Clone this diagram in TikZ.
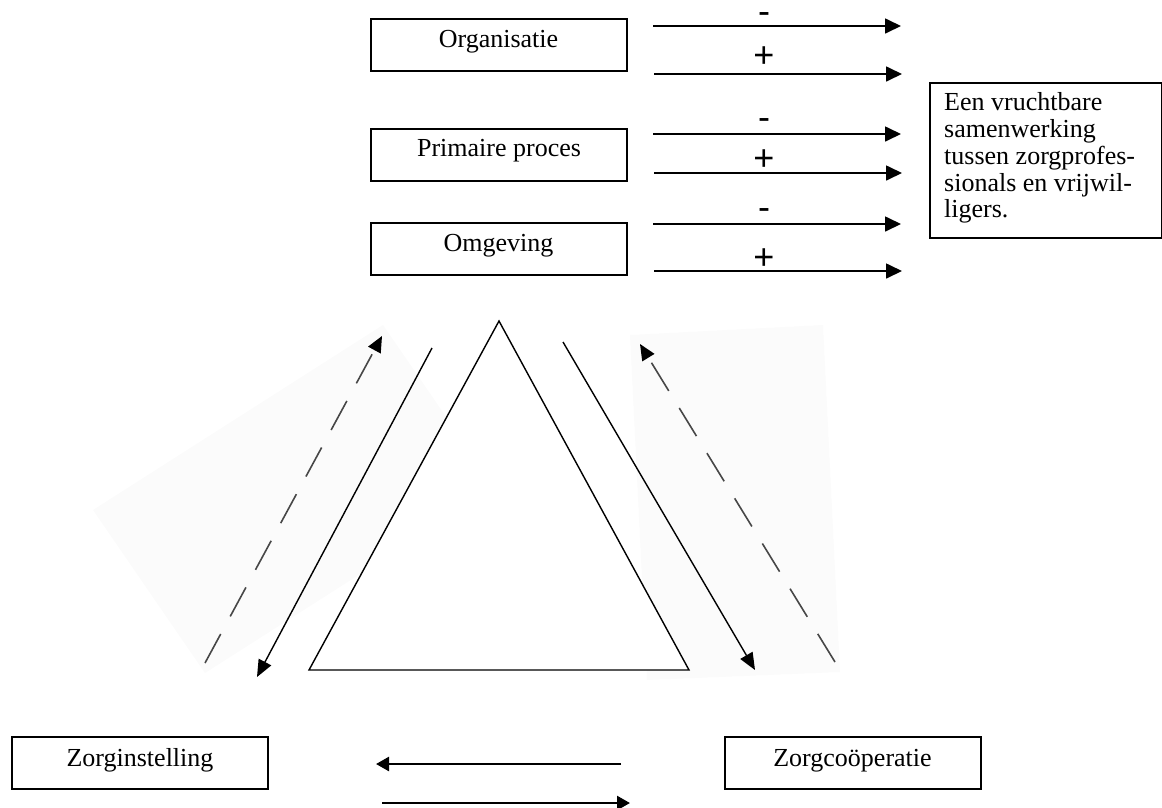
\documentclass[tikz,border=0pt]{standalone}
\usepackage{fontspec}
\setmainfont{Liberation Serif}
\newfontfamily\signfont{Liberation Sans}
\usetikzlibrary{arrows.meta}
\begin{document}
\begin{tikzpicture}[x=1pt,y=-1pt,
  factor/.style={draw, line width=2pt, minimum width=256pt, minimum height=52pt,
    inner sep=0pt, outer sep=0pt, text height=18pt, text depth=14pt,
    font=\fontsize{26}{30}\selectfont},
  party/.style={factor, text height=18pt, text depth=12pt},
  flow/.style={line width=1.7pt, -{Triangle[length=16pt,width=15pt]}},
  sign/.style={font=\signfont\fontsize{36}{36}\selectfont, anchor=base, inner sep=0pt},
  link/.style={line width=1.4pt, -{Triangle[length=17pt,width=14pt]}},
  feedback/.style={draw=black!72, line width=1.6pt, dash pattern=on 33pt off 20pt,
    -{Triangle[length=16pt,width=14pt,color=black]}},
  exchange/.style={line width=2.5pt, -{Triangle[length=13pt,width=14pt]}},
  patch/.style={fill=black!1.5, draw=none}
]
\useasboundingbox (0,0) rectangle (1162,807);

% faint panels behind the dashed return arrows
\fill[patch] (383,325) -- (93,510) -- (205,673) -- (495,488) -- cycle;
\fill[patch] (630,335) -- (823,325) -- (840,672) -- (647,680) -- cycle;

% factors
\node[factor] (org) at (498.5,45) {Organisatie};
\node[factor] (prim) at (499,154.5) {Primaire proces};
\node[factor] (omg) at (498.5,249) {Omgeving};

% influence arrows with signs
\foreach \n/\ya/\yb in {a/26/74, b/134/173, c/224/271}{
  \coordinate (\n1s) at (653,\ya); \coordinate (\n1e) at (901,\ya);
  \coordinate (\n2s) at (654,\yb); \coordinate (\n2e) at (902,\yb);
  \draw[flow] (\n1s) -- (\n1e);
  \draw[flow] (\n2s) -- (\n2e);
}
\node[sign] (ma) at (764,23.5) {-};
\node[sign] (pa) at (764,67.8) {+};
\node[sign] (mb) at (764,129.8) {-};
\node[sign] (pb) at (764,170.8) {+};
\node[sign] (mc) at (764,219.8) {-};
\node[sign] (pc) at (764,269.8) {+};

% goal
\node[draw, line width=2pt, minimum width=232pt, minimum height=155pt,
  anchor=north west, inner sep=0pt] (goal) at (929,82) {};
\node[anchor=north west, inner sep=0pt, align=left,
  font=\fontsize{26}{26.8}\selectfont] (goaltext) at (944,92.4)
  {Een vruchtbare\\samenwerking\\tussen zorgprofes-\\sionals en vrijwil-\\ligers.};

% triangle
\coordinate (top) at (499,321);
\coordinate (bl) at (309,670);
\coordinate (br) at (689,670);
\draw[line width=1.4pt, fill=white] (top) -- (bl) -- (br) -- cycle;

% diagonal arrows
\coordinate (ls) at (432,348); \coordinate (le) at (257,677);
\coordinate (rs) at (563,342); \coordinate (re) at (755,670);
\draw[link] (ls) -- (le);
\draw[link] (rs) -- (re);
\coordinate (lds) at (205,663); \coordinate (lde) at (382,336);
\coordinate (rds) at (835,662); \coordinate (rde) at (640,344);
\draw[feedback] (lds) -- (lde);
\draw[feedback] (rds) -- (rde);

% parties
\node[party] (inst) at (140,763) {Zorginstelling};
\node[party] (coop) at (852.5,763) {Zorgcoöperatie};
\coordinate (u1) at (621,764); \coordinate (u2) at (376,764);
\coordinate (d1) at (382,803); \coordinate (d2) at (630,803);
\draw[exchange] (u1) -- (u2);
\draw[exchange] (d1) -- (d2);
\end{tikzpicture}
\end{document}
